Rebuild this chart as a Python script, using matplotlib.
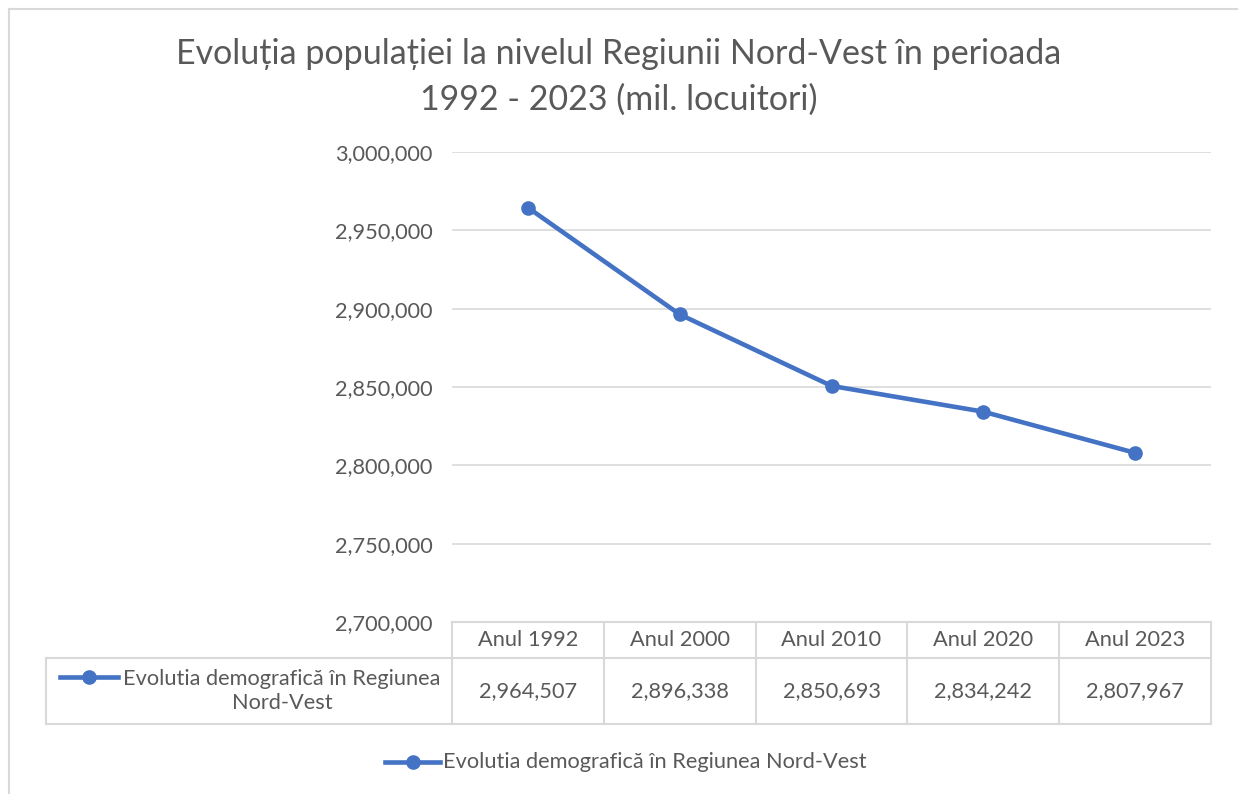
import matplotlib
matplotlib.use('Agg')
import matplotlib.pyplot as plt
import matplotlib.transforms as mtransforms
from matplotlib.lines import Line2D

# data
years = ["Anul 1992", "Anul 2000", "Anul 2010", "Anul 2020", "Anul 2023"]
population = [2964507, 2896338, 2850693, 2834242, 2807967]
series_name = "Evolutia demografică în Regiunea Nord-Vest"
title = "Evoluția populației la nivelul Regiunii Nord-Vest în perioada\n1992 - 2023 (mil. locuitori)"
yticks = [2700000, 2750000, 2800000, 2850000, 2900000, 2950000, 3000000]

plt.rcParams['font.family'] = ['Lato', 'DejaVu Sans']
txt = '#595959'
grid = '#d9d9d9'
blue = '#4472c4'
fs = 15.7

W, H = 1238, 794
fig = plt.figure(figsize=(W / 100, H / 100), dpi=100)

# chart border (top and left visible)
fig.add_artist(Line2D([8.5 / W, 1], [1 - 8.5 / H] * 2, color=grid, lw=1.5))
fig.add_artist(Line2D([8.5 / W] * 2, [0, 1 - 8.5 / H], color=grid, lw=1.5))

ax = fig.add_axes([452 / W, 1 - 622 / H, (1211 - 452) / W, (622 - 152) / H])
x = list(range(len(years)))
ax.plot(x, population, color=blue, lw=3.3, marker='o', ms=9.5, zorder=3)
ax.set_xlim(-0.5, len(years) - 0.5)
ax.set_ylim(2700000, 3000000)
ax.set_yticks(yticks)
ax.set_yticklabels([f"{v:,}" for v in yticks])
ax.yaxis.grid(True, color=grid, lw=1.2)
ax.set_axisbelow(True)
for s in ax.spines.values():
    s.set_visible(False)
ax.tick_params(axis='y', length=0, pad=14, labelsize=fs, labelcolor=txt)
ax.set_xticks([])

fig.text(0.5, 1 - 77 / H, title, ha='center', va='center', fontsize=24.5,
         color=txt, linespacing=1.55)

# data table below the axis
tr = mtransforms.blended_transform_factory(ax.transData, ax.transAxes)
ph = 622 - 152
pw = 1211 - 452
r1 = -36 / ph
r2 = -102 / ph
left = (46 - 452) / pw
lkw = dict(color=grid, lw=1.5, clip_on=False)
# horizontal lines
ax.plot([-0.5, 4.5], [0, 0], transform=tr, **lkw)
ax.plot([left, 1], [r1, r1], transform=ax.transAxes, **lkw)
ax.plot([left, 1], [r2, r2], transform=ax.transAxes, **lkw)
# vertical lines
for i in range(len(years) + 1):
    ax.plot([i - 0.5, i - 0.5], [0, r2], transform=tr, **lkw)
ax.plot([left, left], [r1, r2], transform=ax.transAxes, **lkw)

for i, (yr, v) in enumerate(zip(years, population)):
    ax.text(i, r1 / 2, yr, transform=tr, ha='center', va='center',
            fontsize=fs, color=txt)
    ax.text(i, (r1 + r2) / 2, f"{v:,}", transform=tr, ha='center',
            va='center', fontsize=fs, color=txt)

# legend key inside the table
lx0 = (60 - 452) / pw
lx1 = (118 - 452) / pw
ly = -(677 - 622) / ph
ax.plot([lx0, lx1], [ly, ly], transform=ax.transAxes, color=blue, lw=3.3,
        clip_on=False)
ax.plot([(lx0 + lx1) / 2], [ly], transform=ax.transAxes, color=blue,
        marker='o', ms=9.5, clip_on=False)
ax.text((282 - 452) / pw, (r1 + r2) / 2,
        "Evolutia demografică în Regiunea\nNord-Vest", transform=ax.transAxes,
        ha='center', va='center', fontsize=fs, color=txt, linespacing=1.3)

# bottom legend
ly2 = 1 - 762 / H
fig.add_artist(Line2D([385 / W, 440 / W], [ly2, ly2], color=blue, lw=3.3))
fig.add_artist(Line2D([412.5 / W], [ly2], color=blue, marker='o', ms=9.5))
fig.text(443 / W, ly2, series_name, ha='left', va='center', fontsize=fs,
         color=txt)

fig.savefig('out.png', dpi=100)
